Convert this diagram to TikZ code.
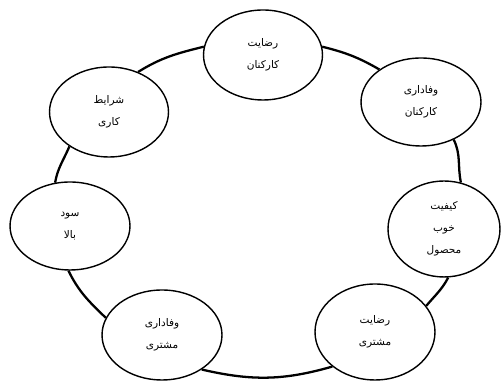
\documentclass[tikz,border=0pt]{standalone}
\usepackage{fontspec}
\newfontfamily\arabicfont[Script=Arabic]{DejaVu Sans}
\TeXXeTstate=1
\usetikzlibrary{shapes.geometric}
\tikzset{
  bubble/.style={ellipse,draw,line width=0.8pt,fill=white,inner sep=0pt,
    minimum width=2.38cm,minimum height=1.8cm,align=center,
    font=\arabicfont\fontsize{6}{12.5}\selectfont},
  link/.style={line width=1.3pt}
}
\newcommand{\rtl}[1]{\beginR #1\endR}
\begin{document}
\begin{tikzpicture}[x=0.02cm,y=0.02cm]
\useasboundingbox (0,0) rectangle (501,381);
\node[bubble] (empsat) at (263,326) {\rtl{رضایت}\\\rtl{کارکنان}};
\node[bubble,minimum width=2.4cm,minimum height=1.76cm] (employ) at (421,279) {\rtl{وفاداری}\\\rtl{کارکنان}};
\node[bubble,minimum width=2.24cm,minimum height=1.92cm] (quality) at (444,152) {\rtl{کیفیت}\\\rtl{خوب}\\\rtl{محصول}};
\node[bubble,minimum width=2.4cm,minimum height=1.92cm] (custsat) at (375,49) {\rtl{رضایت}\\\rtl{مشتری}};
\node[bubble,minimum width=2.4cm] (custloy) at (162,46) {\rtl{وفاداری}\\\rtl{مشتری}};
\node[bubble,minimum width=2.4cm,minimum height=1.76cm] (profit) at (70,155) {\rtl{سود}\\\rtl{بالا}};
\node[bubble] (workcond) at (109,269) {\rtl{شرایط}\\\rtl{کاری}};
% ring of links, clockwise
\draw[link] (empsat.8) to[out=-14,in=150] (employ.142);
\draw[link] (employ.-49) to[out=-64,in=102] (quality.70);
\draw[link] (quality.-85) to[out=-118,in=50] (custsat.27);
\draw[link] (custsat.219) to[out=-164,in=-13] (custloy.-41);
\draw[link] (custloy.163) to[out=136,in=-64] (profit.268);
\draw[link] (profit.109) to[out=80,in=-113] (workcond.221);
\draw[link] (workcond.54) to[out=32,in=194] (empsat.172);
\end{tikzpicture}
\end{document}
